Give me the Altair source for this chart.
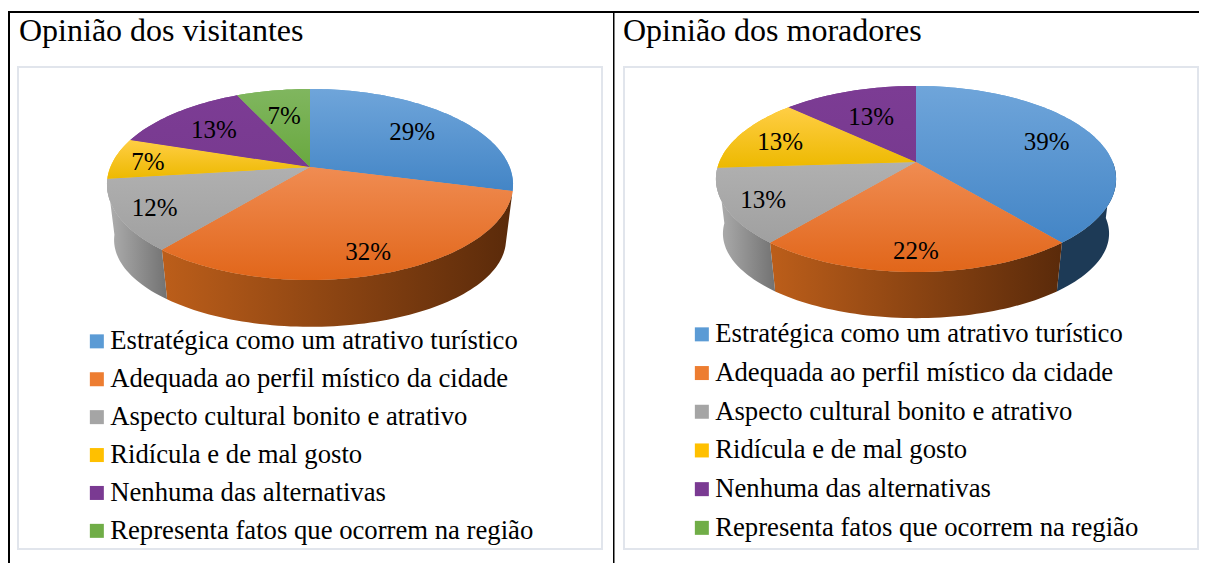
import math
import altair as alt

CATEGORIES = ["Estratégica como um atrativo turístico", "Adequada ao perfil místico da cidade",
              "Aspecto cultural bonito e atrativo", "Ridícula e de mal gosto",
              "Nenhuma das alternativas", "Representa fatos que ocorrem na região"]
VISITANTES = [29, 32, 12, 7, 13, 7]
MORADORES = [39, 22, 13, 13, 13, 0]
TITLES = ["Opinião dos visitantes", "Opinião dos moradores"]

FLAT = ["#5B9BD5", "#ED7D31", "#A5A5A5", "#FFC000", "#7A3A92", "#70AD47"]
TOP = [("#6FA5DA", "#4385C6"), ("#F08C52", "#E1661A"), ("#B0B0B0", "#A0A0A0"),
       ("#FFCE45", "#EDB900"), ("#7C3C94", "#783A90"), ("#80B65F", "#69A83F")]
SIDE = [("#1D3A56", "#1D3A56"), ("#BC5E1A", "#5A2A0A"), ("#B0B0B0", "#727272"),
        ("#8A6A00", "#8A6A00"), ("#42205A", "#42205A"), ("#42682A", "#42682A")]
FONT = "Liberation Serif"
P = -0.183
PROJ = dict(type="identity", scale=1, translate=[0, 0])


def gradient(c1, c2, horizontal=False):
    stops = [alt.GradientStop(offset=0, color=c1), alt.GradientStop(offset=1, color=c2)]
    if horizontal:
        return alt.LinearGradient(gradient="linear", stops=stops, x1=0, x2=1, y1=0, y2=0)
    return alt.LinearGradient(gradient="linear", stops=stops, x1=0, x2=0, y1=0, y2=1)


def feat(geom_type, coords, **props):
    return {"type": "Feature", "geometry": {"type": geom_type, "coordinates": coords}, "properties": props}


def panel(values, title, W, H, cx, cy, A, B, depth, frame, legend_xy, row_pad, label_r, text_x, vline):
    def pt(deg, a=A, b=B, yc=cy):
        u, v = math.sin(math.radians(deg)), math.cos(math.radians(deg))
        d = 1 - P * v
        return [cx + a * u / d, yc - b * v / d]

    def arc(a0, a1, **kw):
        n = max(2, int(abs(a1 - a0) / 1.5))
        return [pt(a0 + (a1 - a0) * i / n, **kw) for i in range(n + 1)]

    spans, c = [], 0
    for val in values:
        spans.append((c * 3.6, (c + val) * 3.6))
        c += val

    layers = []
    layers.append(alt.Chart(alt.Data(values=[feat("Polygon", [[[0, 0], [W, 0], [W, H], [0, H], [0, 0]]])]))
                  .mark_geoshape(fill="white", strokeWidth=0).project(**PROJ))
    fx0, fy0, fx1, fy1 = frame
    layers.append(alt.Chart(alt.Data(values=[feat("Polygon", [[[fx0, fy0], [fx1, fy0], [fx1, fy1], [fx0, fy1], [fx0, fy0]]])]))
                  .mark_geoshape(fill="white", stroke="#E1E5EC", strokeWidth=2).project(**PROJ))

    # flat slices carry the legend
    tops = [feat("Polygon", [[[cx, cy]] + arc(a0, a1) + [[cx, cy]]], cat=name)
            for name, (a0, a1), val in zip(CATEGORIES, spans, values) if val > 0]
    legend = alt.Legend(title=None, orient="none", legendX=legend_xy[0], legendY=legend_xy[1],
                        symbolType="square", symbolSize=196, symbolStrokeWidth=0, labelFont=FONT,
                        labelFontSize=26.7, labelColor="black", labelOffset=0, rowPadding=row_pad,
                        labelLimit=600, padding=0)
    layers.append(alt.Chart(alt.Data(values=tops)).mark_geoshape(strokeWidth=0).encode(
        fill=alt.Fill("properties.cat:N", scale=alt.Scale(domain=CATEGORIES, range=FLAT), legend=legend)
    ).project(**PROJ))

    # side walls, front edge only
    bkw = dict(a=A * 0.965, b=B * 0.91, yc=cy + depth)
    for i, (a0, a1) in enumerate(spans):
        if values[i] == 0 or a1 < 110 or a0 > 260:
            continue
        a0c, a1c = max(a0, 90), min(a1, 270)
        poly = arc(a0c, a1c) + arc(a1c, a0c, **bkw)
        poly.append(poly[0])
        layers.append(alt.Chart(alt.Data(values=[feat("Polygon", [poly])])).mark_geoshape(
            fill=gradient(*SIDE[i], horizontal=True), strokeWidth=0).project(**PROJ))

    # top surface with its shading
    for i, (a0, a1) in enumerate(spans):
        if values[i] == 0:
            continue
        poly = [[cx, cy]] + arc(a0, a1) + [[cx, cy]]
        layers.append(alt.Chart(alt.Data(values=[feat("Polygon", [poly])])).mark_geoshape(
            fill=gradient(*TOP[i]), strokeWidth=0).project(**PROJ))

    # percent labels
    labels = []
    for i, (a0, a1) in enumerate(spans):
        if values[i] == 0:
            continue
        x, y = pt((a0 + a1) / 2)
        r = label_r[i]
        labels.append({"lon": cx + (x - cx) * r, "lat": cy + (y - cy) * r + 2, "t": f"{values[i]}%"})
    layers.append(alt.Chart(alt.Data(values=labels)).mark_text(
        font=FONT, fontSize=25, color="black", baseline="middle", align="center").encode(
        longitude="lon:Q", latitude="lat:Q", text="t:N").project(**PROJ))

    # title
    layers.append(alt.Chart(alt.Data(values=[{"lon": text_x, "lat": 23, "t": title}])).mark_text(
        font=FONT, fontSize=32, color="black", baseline="middle", align="left").encode(
        longitude="lon:Q", latitude="lat:Q", text="t:N").project(**PROJ))

    # table lines
    lines = [feat("LineString", [[0, 4], [W, 4]]), feat("LineString", [[vline, 4], [vline, H]])]
    layers.append(alt.Chart(alt.Data(values=lines)).mark_geoshape(
        filled=False, stroke="black", strokeWidth=2).project(**PROJ))

    return alt.layer(*layers).properties(width=W, height=H)


left = panel(VISITANTES, TITLES[0], 605, 555, 302, 159, 199.6, 92.3, 57, (10, 59, 594, 541),
             (75.5, 320), 9.9, [.72, .78, .81, .83, .72, .70], 11, 1)
right = panel(MORADORES, TITLES[1], 586, 555, 303, 154, 196.7, 89.9, 56, (11, 59, 585, 541),
              (75.5, 313), 10.7, [.75, .79, .80, .78, .67, 1], 10, 0.5)

chart = alt.hconcat(left, right, spacing=0, padding=0, bounds="flush").resolve_scale(fill="independent").configure_view(
    stroke=None)
chart.save("out.html", embed_options={"renderer": "svg", "actions": False})
